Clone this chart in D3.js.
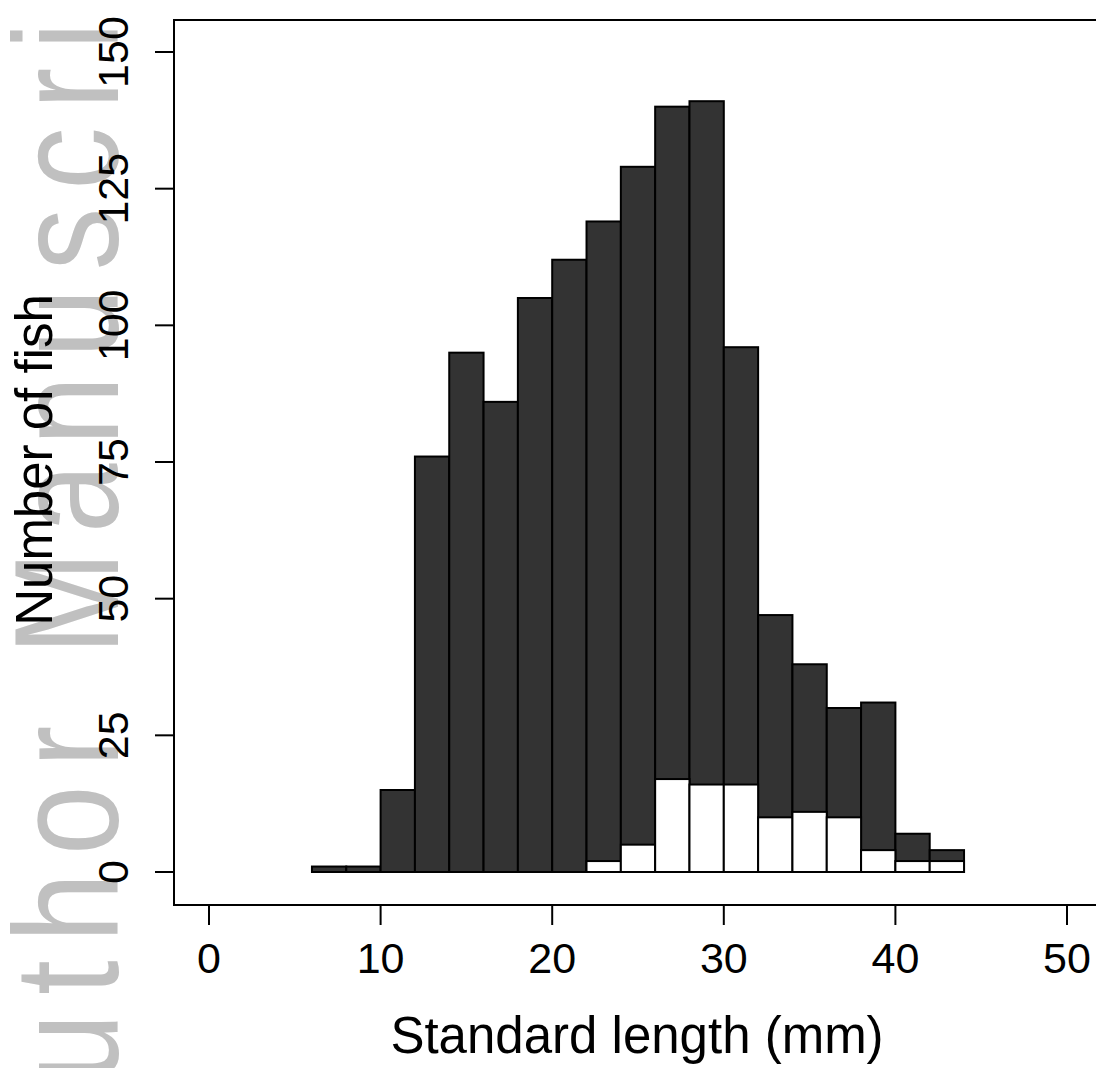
<!DOCTYPE html>
<html>
<head>
<meta charset="utf-8">
<script src="https://cdn.jsdelivr.net/npm/d3@7"></script>
<style>
  html, body { margin: 0; padding: 0; background: #fff; }
  svg text { font-family: "Liberation Sans", Arial, Helvetica, sans-serif; fill: #000; }
</style>
</head>
<body>
<svg id="chart" width="1096" height="1068"></svg>
<script>
// bins of standard length (mm), left edges, each 2 mm wide
const binStarts = [6, 8, 10, 12, 14, 16, 18, 20, 22, 24, 26, 28, 30, 32, 34, 36, 38, 40, 42];
const binWidth = 2;
// all fish per bin (dark bars)
const totalCounts = [1, 1, 15, 76, 95, 86, 105, 112, 119, 129, 140, 141, 96, 47, 38, 30, 31, 7, 4];
// subset per bin (white bars)
const subsetCounts = [0, 0, 0, 0, 0, 0, 0, 0, 2, 5, 17, 16, 16, 10, 11, 10, 4, 2, 2];

const xTicks = [0, 10, 20, 30, 40, 50];
const yTicks = [0, 25, 50, 75, 100, 125, 150];
const xTitle = "Standard length (mm)";
const yTitle = "Number of fish";
const watermark = "Author Manuscript";

const svg = d3.select("#chart");

const x = d3.scaleLinear().domain([0, 50]).range([209, 1067]);
const y = d3.scaleLinear().domain([0, 150]).range([872, 52]);

// grey watermark down the left side (its letters are tall and narrow)
svg.append("text")
  .attr("transform", "translate(118,1184) scale(1.18,1) rotate(-90)")
  .attr("font-size", 125)
  .attr("letter-spacing", 18)
  .style("fill", "#c0c0c0")
  .text(watermark);

const bins = binStarts.map((b, i) => ({ x0: b, x1: b + binWidth, total: totalCounts[i], sub: subsetCounts[i] }));

// dark bars
svg.selectAll(".bar")
  .data(bins)
  .enter()
  .append("rect")
  .attr("class", "bar")
  .attr("x", d => x(d.x0))
  .attr("y", d => y(d.total))
  .attr("width", d => x(d.x1) - x(d.x0))
  .attr("height", d => y(0) - y(d.total))
  .attr("fill", "#333333")
  .attr("stroke", "#000")
  .attr("stroke-width", 2);

// white bars on top
svg.selectAll(".sub")
  .data(bins.filter(d => d.sub > 0))
  .enter()
  .append("rect")
  .attr("class", "sub")
  .attr("x", d => x(d.x0))
  .attr("y", d => y(d.sub))
  .attr("width", d => x(d.x1) - x(d.x0))
  .attr("height", d => y(0) - y(d.sub))
  .attr("fill", "#fff")
  .attr("stroke", "#000")
  .attr("stroke-width", 2);

// box
const boxLeft = 174, boxTop = 20, boxBottom = 905, boxRight = 1110;
svg.append("rect")
  .attr("x", boxLeft).attr("y", boxTop)
  .attr("width", boxRight - boxLeft).attr("height", boxBottom - boxTop)
  .attr("fill", "none").attr("stroke", "#000").attr("stroke-width", 2);

// y axis ticks and labels
const yt = svg.selectAll(".ytick").data(yTicks).enter().append("g").attr("class", "ytick");
yt.append("line")
  .attr("x1", 155).attr("x2", boxLeft)
  .attr("y1", d => y(d)).attr("y2", d => y(d))
  .attr("stroke", "#000").attr("stroke-width", 2);
yt.append("text")
  .attr("transform", d => `translate(128,${y(d)}) rotate(-90)`)
  .attr("text-anchor", "middle")
  .attr("font-size", 43)
  .text(d => d);

// x axis ticks and labels
const xt = svg.selectAll(".xtick").data(xTicks).enter().append("g").attr("class", "xtick");
xt.append("line")
  .attr("x1", d => x(d)).attr("x2", d => x(d))
  .attr("y1", boxBottom).attr("y2", 925)
  .attr("stroke", "#000").attr("stroke-width", 2);
xt.append("text")
  .attr("x", d => x(d))
  .attr("y", 973)
  .attr("text-anchor", "middle")
  .attr("font-size", 43)
  .text(d => d);

// titles
svg.append("text")
  .attr("x", 637)
  .attr("y", 1053)
  .attr("text-anchor", "middle")
  .attr("font-size", 51)
  .text(xTitle);

svg.append("text")
  .attr("transform", "translate(52,460) rotate(-90)")
  .attr("text-anchor", "middle")
  .attr("font-size", 51)
  .text(yTitle);
</script>
</body>
</html>
